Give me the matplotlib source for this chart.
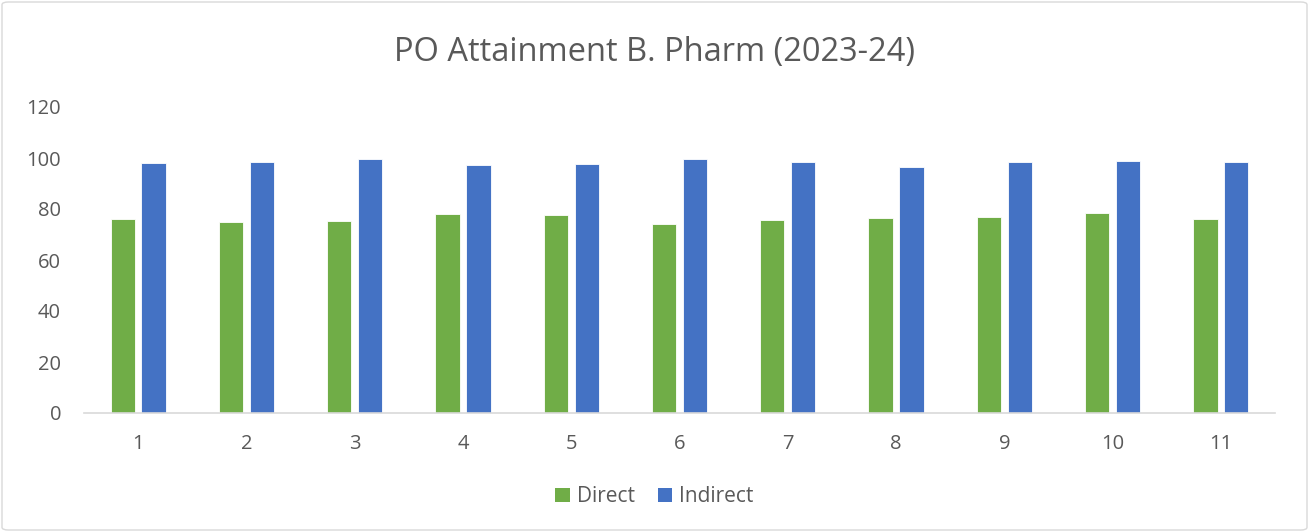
import matplotlib
matplotlib.use("Agg")
import matplotlib.pyplot as plt
import numpy as np
from matplotlib.patches import FancyBboxPatch, Patch

categories = ["1", "2", "3", "4", "5", "6", "7", "8", "9", "10", "11"]
direct = [76.1, 74.9, 75.2, 78.1, 77.8, 74.3, 75.7, 76.4, 76.9, 78.6, 76.1]
indirect = [97.9, 98.5, 99.6, 97.2, 97.6, 99.6, 98.5, 96.3, 98.5, 98.9, 98.5]

green = "#70AD47"
blue = "#4472C4"
txt = "#595959"

plt.rcParams['font.family'] = ['Open Sans', 'DejaVu Sans']

fig = plt.figure(figsize=(13.09, 5.32), dpi=100)
ax = fig.add_axes([84/1309, 1-413/532, (1275-84)/1309, (413-107)/532])

x = np.arange(1, len(categories)+1)
w = 0.224
off = 0.143
ax.bar(x - off, direct, width=w, color=green, edgecolor="white", linewidth=0.6, label="Direct")
ax.bar(x + off, indirect, width=w, color=blue, edgecolor="white", linewidth=0.6, label="Indirect")

ax.set_xlim(0.5, len(categories)+0.5)
ax.set_ylim(0, 120)
ax.set_yticks(range(0, 121, 20))
ax.set_xticks(x)
ax.set_xticklabels(categories)
for s in ["top", "right", "left"]:
    ax.spines[s].set_visible(False)
ax.spines["bottom"].set_color("#d9d9d9")
ax.spines["bottom"].set_linewidth(1.2)
ax.tick_params(axis="both", length=0, labelsize=14.5, colors=txt)
ax.tick_params(axis="x", pad=15)
ax.tick_params(axis="y", pad=16.5)

fig.text(0.5, 1-52/532, "PO Attainment B. Pharm (2023-24)", ha="center", va="center",
         fontsize=23.5, color=txt)

handles = [Patch(facecolor=green, label="Direct"), Patch(facecolor=blue, label="Indirect")]
fig.legend(handles=handles, loc="center", bbox_to_anchor=(0.5, 1-497/532), ncol=2,
           frameon=False, fontsize=15, labelcolor=txt, handlelength=0.68, handleheight=0.68,
           handletextpad=0.35, columnspacing=1.1)

border = FancyBboxPatch((2/1309, 2/532), 1-4/1309, 1-4/532, boxstyle="round,pad=0,rounding_size=0.005",
                        transform=fig.transFigure, fill=False, edgecolor="#d9d9d9", linewidth=1)
fig.patches.append(border)

fig.savefig("out.png", dpi=100)
